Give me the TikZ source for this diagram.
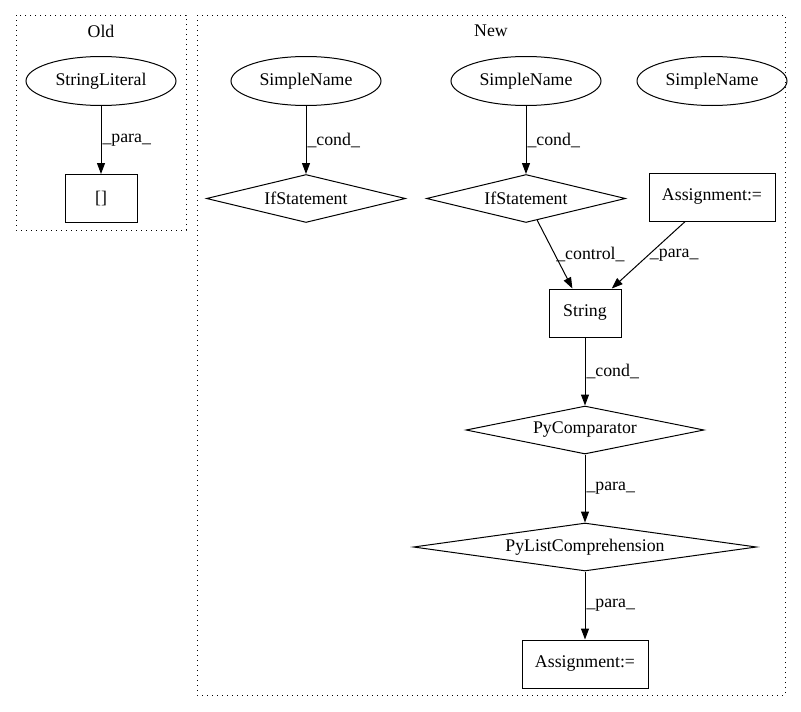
\documentclass[tikz,border=0pt]{standalone}
\usepackage{fontspec}
\setmainfont{Liberation Serif}
\usetikzlibrary{shapes.geometric, arrows.meta, positioning}
\tikzstyle{namenode} = [ellipse, draw=black, minimum width=150pt, minimum height=49pt, inner sep=0pt]
\tikzstyle{opbox} = [rectangle, draw=black, minimum width=72pt, minimum height=48pt, inner sep=0pt]
\tikzstyle{stmt} = [diamond, aspect=4, draw=black, minimum width=199pt, minimum height=48pt, inner sep=0pt]
\tikzstyle{cluster} = [draw=black, dash pattern=on 1.2pt off 3.8pt]
\tikzstyle{arrow} = [-{Triangle[length=11pt,width=8pt]}]
\tikzstyle{lbl} = [midway, right, inner sep=1pt]

\begin{document}
\begin{tikzpicture}[x=1pt, y=1pt, node distance=68pt, line width=1pt, font=\fontsize{17.8}{20}\selectfont]
\useasboundingbox (0,0) rectangle (801,-712);
% Clusters
\draw [cluster] (16,-15) rectangle (186,-230);
\draw [cluster] (197,-15) rectangle (785,-695);
\node (oldtitle) at (101,-31) {Old};
\node (newtitle) at (491,-31) {New};
% Old
\node (strlit) [namenode] at (101,-81) {StringLiteral};
\node (index) [opbox, below=of strlit] {[]};
% New, row 1
\node (name1) [namenode] at (306,-81) {SimpleName};
\node (name2) [namenode] at (526,-81) {SimpleName};
\node (name3) [namenode] at (712,-81) {SimpleName};
% New, row 2
\node (if1) [stmt, below=of name1] {IfStatement};
\node (if2) [stmt, below=of name2] {IfStatement};
\node (assign1) [opbox, minimum width=126pt] at (712,-197) {Assignment:=};
% New, rows 3 to 6
\node (string) [opbox] at (585,-313) {String};
\node (pycomp) [stmt, minimum width=238pt, below=of string] {PyComparator};
\node (pylist) [stmt, aspect=8, minimum width=343pt, below=of pycomp] {PyListComprehension};
\node (assign2) [opbox, minimum width=126pt, below=of pylist] {Assignment:=};

% Arrows
\draw [arrow] (strlit) -- (index) node [lbl] {\_para\_};
\draw [arrow] (name1) -- (if1) node [lbl] {\_cond\_};
\draw [arrow] (name2) -- (if2) node [lbl] {\_cond\_};
\draw [arrow] (if2) -- (string) node [lbl] {\_control\_};
\draw [arrow] (assign1) -- (string) node [lbl] {\_para\_};
\draw [arrow] (string) -- (pycomp) node [lbl] {\_cond\_};
\draw [arrow] (pycomp) -- (pylist) node [lbl] {\_para\_};
\draw [arrow] (pylist) -- (assign2) node [lbl] {\_para\_};
\end{tikzpicture}
\end{document}
